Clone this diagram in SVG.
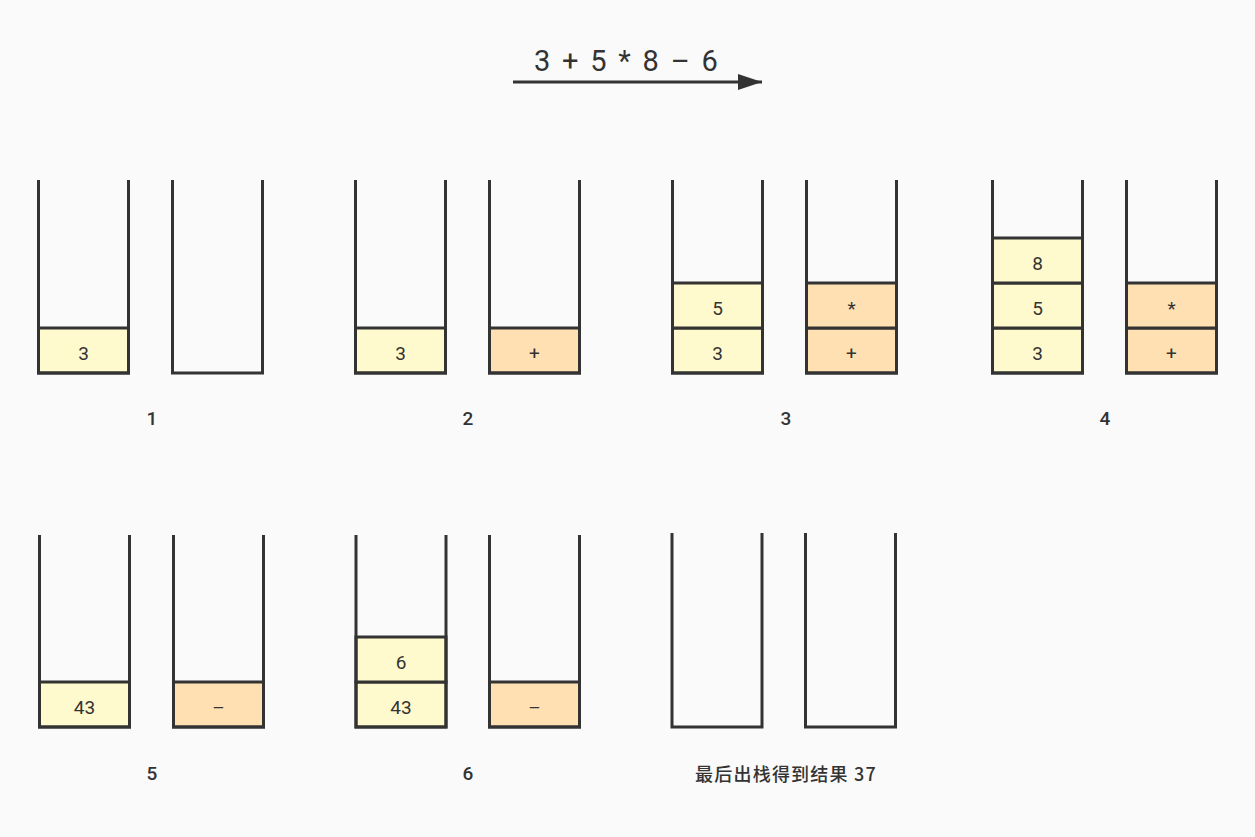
<svg xmlns="http://www.w3.org/2000/svg" width="1255" height="837" viewBox="0 0 1255 837">
<style>
.stack{fill:none;stroke:#333;stroke-width:3;stroke-linejoin:miter;stroke-linecap:butt}
.num{fill:#fffacd;stroke:#333;stroke-width:3}
.op{fill:#ffe0b2;stroke:#333;stroke-width:3}
.t{font-family:Roboto,"Noto Sans CJK SC",sans-serif;font-size:19px;fill:#333;text-anchor:middle;dominant-baseline:central}
.lbl{font-family:Roboto,"Noto Sans CJK SC",sans-serif;font-size:19px;font-weight:500;fill:#333;text-anchor:middle;dominant-baseline:central}
.res{font-family:"Noto Sans CJK SC",sans-serif;font-size:18px;font-weight:500;letter-spacing:1.2px;fill:#333;text-anchor:middle;dominant-baseline:central}
.title{font-family:Roboto,"Noto Sans CJK SC",sans-serif;font-size:29px;letter-spacing:2.3px;fill:#333;text-anchor:middle}
</style>
<defs>
<marker id="ah" markerWidth="24" markerHeight="16" refX="24" refY="8" orient="auto" markerUnits="userSpaceOnUse">
<path d="M0,0 L24,8 L0,16 Z" fill="#333"/>
</marker>
</defs>
<rect width="1255" height="837" fill="#fafafa"/>
<g id="title">
<text class="title" x="627" y="71">3 + 5 * 8 – 6</text>
</g>
<g id="connectors">
<line x1="513" y1="82" x2="762" y2="82" stroke="#333" stroke-width="3" marker-end="url(#ah)"/>
</g>
<g id="step1">
<rect class="num" x="38.5" y="328" width="90" height="45"/>
<text class="t" x="83.5" y="353">3</text>
<path class="stack" d="M38.5,180 V373 H128.5 V180"/>
<path class="stack" d="M172.5,180 V373 H262.5 V180"/>
<text class="lbl" x="152" y="418">1</text>
</g>
<g id="step2">
<rect class="num" x="355.5" y="328" width="90" height="45"/>
<text class="t" x="400.5" y="353">3</text>
<rect class="op" x="489.5" y="328" width="90" height="45"/>
<text class="t" x="534.5" y="353">+</text>
<path class="stack" d="M355.5,180 V373 H445.5 V180"/>
<path class="stack" d="M489.5,180 V373 H579.5 V180"/>
<text class="lbl" x="468" y="418">2</text>
</g>
<g id="step3">
<rect class="num" x="672.5" y="328" width="90" height="45"/>
<text class="t" x="717.5" y="353">3</text>
<rect class="num" x="672.5" y="283" width="90" height="45"/>
<text class="t" x="717.5" y="308">5</text>
<rect class="op" x="806.5" y="328" width="90" height="45"/>
<text class="t" x="851.5" y="353">+</text>
<rect class="op" x="806.5" y="283" width="90" height="45"/>
<text class="t" x="851.5" y="308">*</text>
<path class="stack" d="M672.5,180 V373 H762.5 V180"/>
<path class="stack" d="M806.5,180 V373 H896.5 V180"/>
<text class="lbl" x="786" y="418">3</text>
</g>
<g id="step4">
<rect class="num" x="992.5" y="328" width="90" height="45"/>
<text class="t" x="1037.5" y="353">3</text>
<rect class="num" x="992.5" y="283" width="90" height="45"/>
<text class="t" x="1037.5" y="308">5</text>
<rect class="num" x="992.5" y="238" width="90" height="45"/>
<text class="t" x="1037.5" y="263">8</text>
<rect class="op" x="1126.5" y="328" width="90" height="45"/>
<text class="t" x="1171.5" y="353">+</text>
<rect class="op" x="1126.5" y="283" width="90" height="45"/>
<text class="t" x="1171.5" y="308">*</text>
<path class="stack" d="M992.5,180 V373 H1082.5 V180"/>
<path class="stack" d="M1126.5,180 V373 H1216.5 V180"/>
<text class="lbl" x="1105" y="418">4</text>
</g>
<g id="step5">
<rect class="num" x="39.5" y="682" width="90" height="45"/>
<text class="t" x="84.5" y="707">43</text>
<rect class="op" x="173.5" y="682" width="90" height="45"/>
<text class="t" x="218.5" y="707">–</text>
<path class="stack" d="M39.5,535 V727 H129.5 V535"/>
<path class="stack" d="M173.5,535 V727 H263.5 V535"/>
<text class="lbl" x="152" y="773">5</text>
</g>
<g id="step6">
<rect class="num" x="356" y="682" width="90" height="45"/>
<text class="t" x="401" y="707">43</text>
<rect class="num" x="356" y="637" width="90" height="45"/>
<text class="t" x="401" y="662">6</text>
<rect class="op" x="489.5" y="682" width="90" height="45"/>
<text class="t" x="534.5" y="707">–</text>
<path class="stack" d="M356,535 V727 H446 V535"/>
<path class="stack" d="M489.5,535 V727 H579.5 V535"/>
<text class="lbl" x="468" y="773">6</text>
</g>
<g id="step7">
<path class="stack" d="M672,533 V727 H762 V533"/>
<path class="stack" d="M805.5,533 V727 H895.5 V533"/>
<text class="res" x="786" y="773">最后出栈得到结果 37</text>
</g>
</svg>
